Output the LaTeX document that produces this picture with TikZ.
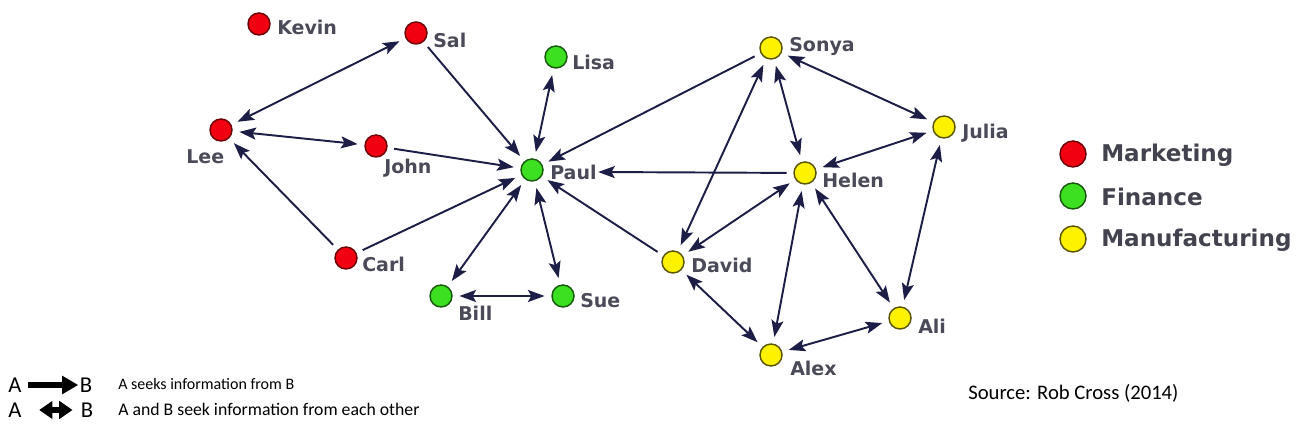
\documentclass[tikz,border=0pt]{standalone}
\usepackage{fontspec}
\setmainfont{DejaVu Sans}
\newfontfamily\carlfont{Carlito}
\usetikzlibrary{arrows.meta}
\definecolor{edgec}{HTML}{1C1E46}
\definecolor{lblc}{HTML}{4A4A58}
\definecolor{mred}{HTML}{F00010}
\definecolor{mgreen}{HTML}{3CE020}
\definecolor{myellow}{HTML}{FFF200}
\begin{document}
\begin{tikzpicture}[x=0.75pt,y=-0.75pt,
  pers/.style={circle, line width=1.1pt, minimum size=16.5pt, inner sep=0pt},
  mk/.style={pers, fill=mred, draw=mred!45!black},
  fin/.style={pers, fill=mgreen, draw=mgreen!40!black},
  man/.style={pers, fill=myellow, draw=myellow!35!black},
  lbl/.style={font=\bfseries\fontsize{14.25}{16}\selectfont, text=lblc, inner sep=0pt, anchor=west},
  leglbl/.style={font=\bfseries\fontsize{17.3}{19}\selectfont, text=lblc!90!black, inner sep=0pt, anchor=west},
  e/.style={draw=edgec, line width=1.45pt, shorten >=5pt, shorten <=5pt},
  tipa/.tip={Stealth[length=12.5pt,width=9pt,inset=2.5pt]},
  uni/.style={e, -tipa},
  bi/.style={e, tipa-tipa},
  note/.style={font=\carlfont\fontsize{12}{14}\selectfont, inner sep=0pt, anchor=west},
  big/.style={font=\carlfont\fontsize{17}{19}\selectfont, inner sep=0pt}
]
\useasboundingbox (0,0) rectangle (1297,434);

% people
\node[mk] (Kevin) at (259,24) {};
\node[mk] (Sal) at (416,33) {};
\node[mk] (Lee) at (221,130) {};
\node[mk] (John) at (376,146) {};
\node[mk] (Carl) at (346,258) {};
\node[fin] (Lisa) at (556,57) {};
\node[fin] (Paul) at (532,170) {};
\node[fin] (Bill) at (441,296) {};
\node[fin] (Sue) at (563,296) {};
\node[man] (Sonya) at (771,48) {};
\node[man] (Julia) at (944,127) {};
\node[man] (Helen) at (805,173) {};
\node[man] (David) at (673,262) {};
\node[man] (Ali) at (900,318) {};
\node[man] (Alex) at (771,355) {};

% labels
\node[lbl] (lKevin) at (277,27) {Kevin};
\node[lbl] (lSal) at (433,40) {Sal};
\node[lbl] (lLisa) at (572,62) {Lisa};
\node[lbl] (lLee) at (186,157) {Lee};
\node[lbl] (lJohn) at (384,168) {John};
\node[lbl] (lPaul) at (550,172) {Paul};
\node[lbl] (lCarl) at (362,264) {Carl};
\node[lbl] (lBill) at (458,313) {Bill};
\node[lbl] (lSue) at (580,301) {Sue};
\node[lbl] (lSonya) at (789,47) {Sonya};
\node[lbl] (lJulia) at (962,133) {Julia};
\node[lbl] (lHelen) at (822,180) {Helen};
\node[lbl] (lDavid) at (691,265) {David};
\node[lbl] (lAli) at (918,326) {Ali};
\node[lbl] (lAlex) at (790,368) {Alex};

% connectors
\draw[bi] (Lee) -- (Sal);
\draw[bi] (Lee) -- (John);
\draw[uni] (Carl) -- (Lee);
\draw[uni] (Sal) -- (Paul);
\draw[uni] (John) -- (Paul);
\draw[uni] (Carl) -- (Paul);
\draw[bi] (Lisa) -- (Paul);
\draw[bi] (Paul) -- (Bill);
\draw[bi] (Paul) -- (Sue);
\draw[bi] (Bill) -- (Sue);
\draw[uni] (Sonya) -- (Paul);
\draw[uni, shorten >=1pt] (Helen) -- (lPaul.east);
\draw[uni] (David) -- (Paul);
\draw[bi] (Sonya) -- (David);
\draw[bi] (Sonya) -- (Helen);
\draw[bi] (Sonya) -- (Julia);
\draw[bi] (Julia) -- (Helen);
\draw[bi] (Helen) -- (David);
\draw[bi] (Helen) -- (Alex);
\draw[bi] (Helen) -- (Ali);
\draw[bi] (Julia) -- (Ali);
\draw[bi] (David) -- (Alex);
\draw[bi] (Alex) -- (Ali);

% department legend
\node[pers, minimum size=19.5pt, fill=mred, draw=mred!45!black] (legM) at (1073,154) {};
\node[pers, minimum size=19.5pt, fill=mgreen, draw=mgreen!40!black] (legF) at (1073,196) {};
\node[pers, minimum size=19.5pt, fill=myellow, draw=myellow!35!black] (legY) at (1073,239) {};
\node[leglbl] (tM) at (1101,155) {Marketing};
\node[leglbl] (tF) at (1101,197) {Finance};
\node[leglbl] (tY) at (1101,240) {Manufacturing};

% arrow legend
\node[big] (A1) at (15,385) {A};
\node[big] (B1) at (86,385) {B};
\node[big] (A2) at (15,410) {A};
\node[big] (B2) at (87,410) {B};
\draw[line width=3.8pt, -{Triangle[length=12pt,width=13pt]}] ([xshift=5pt]A1.east) -- ([xshift=-1pt]B1.west);
\draw[line width=3.8pt, {Triangle[length=10pt,width=13pt]}-{Triangle[length=10pt,width=13pt]}] ([xshift=13pt]A2.east) -- ([xshift=-6pt]B2.west);
\node[note] (n1) at (118,384) {A seeks information from B};
\node[note, font=\carlfont\fontsize{13.3}{15}\selectfont] (n2) at (118,409) {A and B seek information from each other};
\node[note, font=\carlfont\fontsize{15.5}{17}\selectfont] (src) at (968,393) {Source: Rob Cross (2014)};
\end{tikzpicture}
\end{document}
